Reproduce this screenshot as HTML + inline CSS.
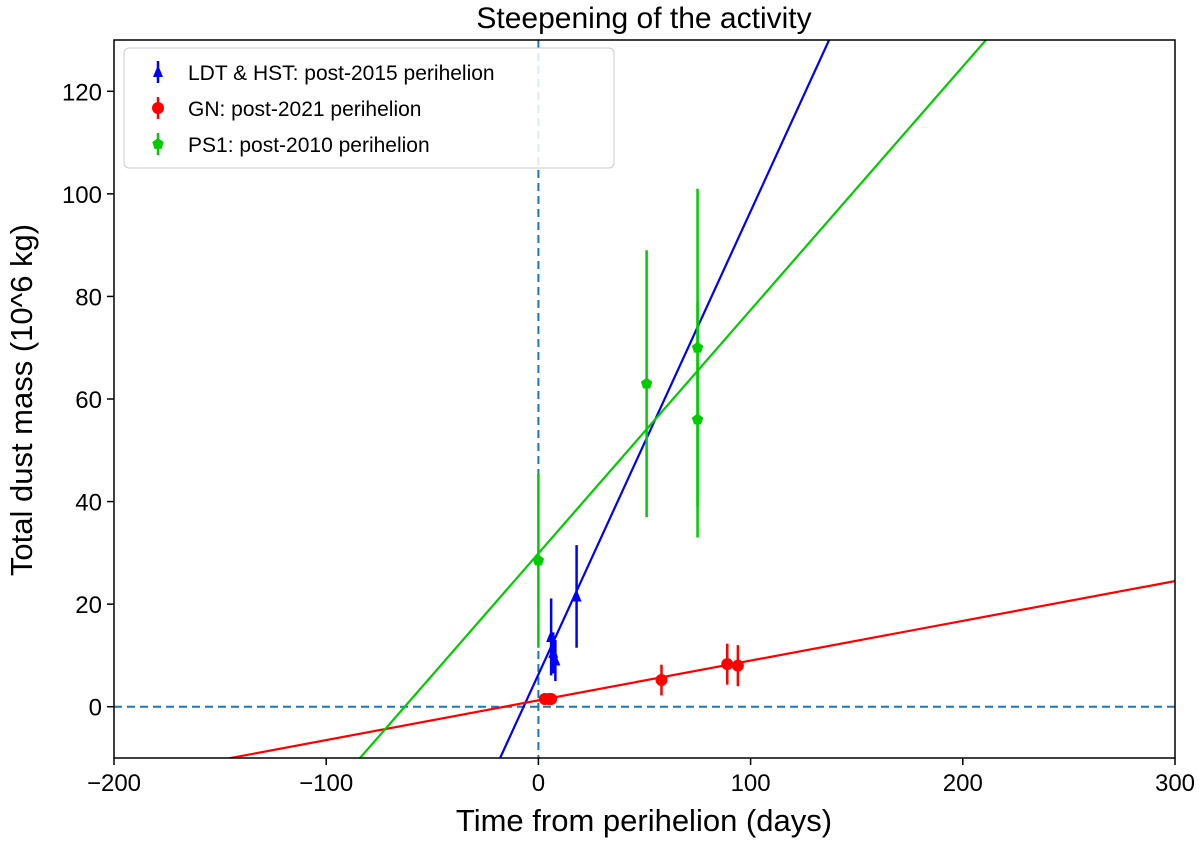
<!DOCTYPE html>
<html><head><meta charset="utf-8"><style>
html,body{margin:0;padding:0;background:#fff;overflow:hidden;width:1200px;height:843px;}
svg{display:block;font-family:"Liberation Sans","DejaVu Sans",sans-serif;}
</style></head><body>
<svg id="chart" width="1200" height="843" xmlns="http://www.w3.org/2000/svg">
<text x="644" y="28" font-size="30" text-anchor="middle">Steepening of the activity</text>
<g id="plot"></g>
<text x="644" y="831" font-size="31" text-anchor="middle">Time from perihelion (days)</text>
<text transform="translate(32,400) rotate(-90)" font-size="31" text-anchor="middle">Total dust mass (10^6 kg)</text>
</svg>
<script>
const xTicks=[-200,-100,0,100,200,300];
const yTicks=[0,20,40,60,80,100,120];
const blueX=[6,7,8,18], blueY=[13.6,10.5,9,21.5], blueErr=[7.5,4,4,10];
const redX=[3,5,6,58,89,94], redY=[1.5,1.5,1.5,5.2,8.3,8], redErr=[1,1,1,3,4,4];
const greenX=[0,51,75,75], greenY=[28.5,63,70,56], greenErr=[17,26,31,23];
const fits=[{name:'blue',slope:0.903,icpt:6.3,color:'#0000ff'},{name:'red',slope:0.0775,icpt:1.24,color:'#ff0000'},{name:'green',slope:0.4746,icpt:29.9,color:'#00cc00'}];
const X0=114,X1=1175,Y0=40,Y1=758,xmin=-200,xmax=300,ymin=-10,ymax=130;
const sx=v=>X0+(v-xmin)/(xmax-xmin)*(X1-X0);
const sy=v=>Y1-(v-ymin)/(ymax-ymin)*(Y1-Y0);
const NS='http://www.w3.org/2000/svg';
const g=document.getElementById('plot');
function mk(t,a,p){const e=document.createElementNS(NS,t);for(const k in a)e.setAttribute(k,a[k]);(p||g).appendChild(e);return e;}
const clip=mk('clipPath',{id:'cp'});mk('rect',{x:X0,y:Y0,width:X1-X0,height:Y1-Y0},clip);
const data=mk('g',{'clip-path':'url(#cp)'});


let l=mk('line',{x1:sx(0),x2:sx(0),y1:Y0,y2:Y1,stroke:'#1f77b4','stroke-width':2,'stroke-dasharray':'8,5'},data);


l=mk('line',{x1:X0,x2:X1,y1:sy(0),y2:sy(0),stroke:'#1f77b4','stroke-width':2,'stroke-dasharray':'8,5'},data);


fits.forEach(f=>{const e=mk('line',{x1:sx(xmin),y1:sy(f.icpt+f.slope*xmin),x2:sx(xmax),y2:sy(f.icpt+f.slope*xmax),stroke:f.color,'stroke-width':2.2},data);

});
function marker(shape,x,y,c,p){
 if(shape==='tri')return mk('polygon',{points:`${x},${y-7} ${x-5},${y+5} ${x+5},${y+5}`,fill:c},p);
 if(shape==='pent'){let pts=[];for(let i=0;i<5;i++){const a=-Math.PI/2+i*2*Math.PI/5;pts.push((x+6*Math.cos(a))+','+(y+6*Math.sin(a)));}return mk('polygon',{points:pts.join(' '),fill:c},p);}
 return mk('circle',{cx:x,cy:y,r:6,fill:c},p);
}
function series(xs,ys,es,c,shape,name){
 xs.forEach((v,i)=>{const e=mk('line',{x1:sx(v),x2:sx(v),y1:sy(ys[i]-es[i]),y2:sy(ys[i]+es[i]),stroke:c,'stroke-width':2.5},data);
 
 
 const m=marker(shape,sx(v),sy(ys[i]),c,data);
 
 });
}
series(greenX,greenY,greenErr,'#00cc00','pent','ps1');
series(blueX,blueY,blueErr,'#0000ff','tri','ldt-hst');
series(redX,redY,redErr,'#ff0000','circ','gn');
const fr=mk('rect',{x:X0,y:Y0,width:X1-X0,height:Y1-Y0,fill:'none',stroke:'#000','stroke-width':1.5});


xTicks.forEach(v=>{mk('line',{x1:sx(v),x2:sx(v),y1:Y1,y2:Y1+7,stroke:'#000','stroke-width':1.5});
const t=mk('text',{x:sx(v),y:Y1+33,'font-size':24,'text-anchor':'middle'});t.textContent=(v<0?'\u2212'+(-v):v);

});
yTicks.forEach(v=>{mk('line',{x1:X0-7,x2:X0,y1:sy(v),y2:sy(v),stroke:'#000','stroke-width':1.5});
const t=mk('text',{x:X0-12,y:sy(v)+9,'font-size':24,'text-anchor':'end'});t.textContent=v;

});
const lg=mk('g',{});


mk('rect',{x:124,y:48,width:490,height:120,rx:5,fill:'#fff','fill-opacity':0.85,stroke:'#ccc'},lg);
[['LDT & HST: post-2015 perihelion','#0000ff','tri'],['GN: post-2021 perihelion','#ff0000','circ'],['PS1: post-2010 perihelion','#00cc00','pent']].forEach((d,i)=>{
 const y=72+i*36;
 mk('line',{x1:158,x2:158,y1:y-11,y2:y+11,stroke:d[1],'stroke-width':2.5},lg);
 marker(d[2],158,y,d[1],lg);
 const t=mk('text',{x:188,y:y+8,'font-size':21},lg);t.textContent=d[0];
 
 
});
</script>
</body></html>
